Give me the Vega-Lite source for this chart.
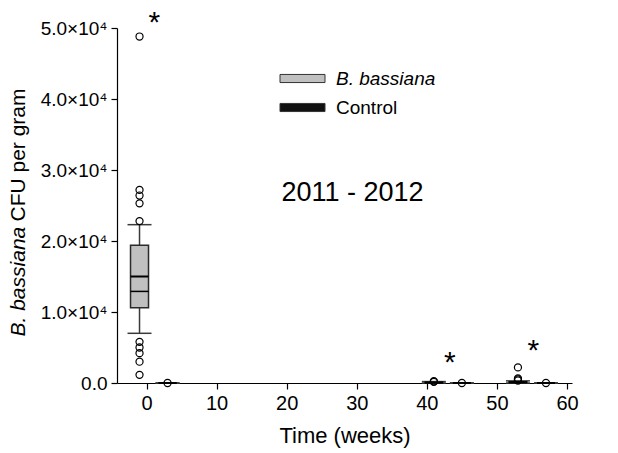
{
  "$schema": "https://vega.github.io/schema/vega-lite/v6.json",
  "width": 455,
  "height": 355,
  "autosize": {"type": "none"},
  "padding": {"left": 117, "top": 28, "right": 46, "bottom": 70},
  "background": "white",
  "config": {
    "view": {"stroke": null},
    "font": "Liberation Sans",
    "axis": {
      "grid": false,
      "domainColor": "#000",
      "tickColor": "#000",
      "labelColor": "#000",
      "titleColor": "#000",
      "labelFont": "Liberation Sans",
      "titleFont": "Liberation Sans",
      "labelFontSize": 19,
      "titleFontSize": 21,
      "titleFontWeight": "normal",
      "domainWidth": 1.2,
      "tickWidth": 1.2,
      "tickSize": 6
    }
  },
  "datasets": {
    "boxes": [
      {"group": "B. bassiana", "week": -1, "lo": 7000, "q1": 10600, "median": 15000, "mean": 12900, "q3": 19400, "hi": 22300},
      {"group": "Control", "week": 3, "lo": 0, "q1": 0, "median": 0, "mean": 0, "q3": 0, "hi": 0},
      {"group": "B. bassiana", "week": 41, "lo": 0, "q1": 0, "median": 60, "mean": 60, "q3": 120, "hi": 200},
      {"group": "Control", "week": 45, "lo": 0, "q1": 0, "median": 0, "mean": 0, "q3": 0, "hi": 0},
      {"group": "B. bassiana", "week": 53, "lo": 0, "q1": 40, "median": 100, "mean": 100, "q3": 180, "hi": 300},
      {"group": "Control", "week": 57, "lo": 0, "q1": 0, "median": 0, "mean": 0, "q3": 0, "hi": 0}
    ],
    "outliers": [
      {"week": -1, "value": 48800},
      {"week": -1, "value": 27200},
      {"week": -1, "value": 26400},
      {"week": -1, "value": 25300},
      {"week": -1, "value": 22800},
      {"week": -1, "value": 5800},
      {"week": -1, "value": 5000},
      {"week": -1, "value": 4200},
      {"week": -1, "value": 3000},
      {"week": -1, "value": 1150},
      {"week": 3, "value": 0},
      {"week": 41, "value": 250},
      {"week": 41, "value": 150},
      {"week": 45, "value": 0},
      {"week": 53, "value": 350},
      {"week": 53, "value": 500},
      {"week": 53, "value": 650},
      {"week": 53, "value": 2200},
      {"week": 57, "value": 0}
    ],
    "stars": [
      {"week": 1.1, "value": 51500, "text": "*"},
      {"week": 43.3, "value": 3600, "text": "*"},
      {"week": 55.2, "value": 5300, "text": "*"}
    ],
    "period": [
      {"week": 29.4, "value": 26800, "text": "2011 - 2012"}
    ]
  },
  "resolve": {"axis": {"y": "independent"}},
  "layer": [
    {
      "layer": [
        {
          "data": {"name": "boxes"},
          "mark": {"type": "rule", "color": "#3a3a3a", "strokeWidth": 1.5},
          "encoding": {
            "x": {"field": "week", "type": "quantitative", "scale": {"domain": [-3.5, 60], "nice": false, "zero": false},
              "axis": {"values": [0, 10, 20, 30, 40, 50, 60], "title": "Time (weeks)", "titleFontSize": 22, "titlePadding": 12, "labelPadding": 4, "labelFontSize": 20}},
            "y": {"field": "lo", "type": "quantitative", "scale": {"domain": [0, 50000], "nice": false}, "title": "CFU per gram",
              "axis": {"orient": "left", "values": [0, 10000, 20000, 30000, 40000, 50000],
                "labelExpr": "datum.value === 0 ? '0.0' : format(datum.value / 10000, '.1f') + '×10⁴'",
                "labelPadding": 4, "titleAngle": -90, "titleX": -99, "titleY": 193, "titleAlign": "left", "titleBaseline": "middle"}},
            "y2": {"field": "hi"}
          }
        },
        {
          "data": {"name": "boxes"},
          "mark": {"type": "rule", "color": "#3a3a3a", "strokeWidth": 1.5, "xOffset": -12, "x2Offset": 12},
          "encoding": {
            "x": {"field": "week", "type": "quantitative"},
            "x2": {"field": "week"},
            "y": {"field": "hi", "type": "quantitative", "title": "CFU per gram"}
          }
        },
        {
          "data": {"name": "boxes"},
          "mark": {"type": "rule", "color": "#3a3a3a", "strokeWidth": 1.5, "xOffset": -12, "x2Offset": 12},
          "encoding": {
            "x": {"field": "week", "type": "quantitative"},
            "x2": {"field": "week"},
            "y": {"field": "lo", "type": "quantitative", "title": "CFU per gram"}
          }
        },
        {
          "data": {"name": "boxes"},
          "mark": {"type": "bar", "width": 18, "stroke": "#2a2a2a", "strokeWidth": 1.5},
          "encoding": {
            "x": {"field": "week", "type": "quantitative"},
            "y": {"field": "q1", "type": "quantitative", "title": "CFU per gram"},
            "y2": {"field": "q3"},
            "color": {
              "field": "group",
              "type": "nominal",
              "scale": {"domain": ["B. bassiana", "Control"], "range": ["#c0c0c0", "#111111"]},
              "legend": {
                "orient": "none",
                "legendX": 176,
                "legendY": 41,
                "title": null,
                "symbolType": "M-2.5,-0.45H2.5V0.45H-2.5Z",
                "symbolSize": 324,
                "symbolStrokeColor": "#333",
                "symbolStrokeWidth": 1,
                "labelFont": "Liberation Sans",
                "labelFontSize": 19,
                "labelColor": "#000",
                "labelOffset": 24,
                "labelLimit": 300,
                "rowPadding": 9,
                "encode": {
                  "labels": {"update": {"fontStyle": {"signal": "datum.value === 'B. bassiana' ? 'italic' : 'normal'"}}}
                }
              }
            }
          }
        },
        {
          "data": {"name": "boxes"},
          "mark": {"type": "rule", "color": "#000", "strokeWidth": 2, "xOffset": -9, "x2Offset": 9},
          "encoding": {
            "x": {"field": "week", "type": "quantitative"},
            "x2": {"field": "week"},
            "y": {"field": "median", "type": "quantitative", "title": "CFU per gram"}
          }
        },
        {
          "data": {"name": "boxes"},
          "mark": {"type": "rule", "color": "#000", "strokeWidth": 1.5, "xOffset": -9, "x2Offset": 9},
          "encoding": {
            "x": {"field": "week", "type": "quantitative"},
            "x2": {"field": "week"},
            "y": {"field": "mean", "type": "quantitative", "title": "CFU per gram"}
          }
        },
        {
          "data": {"name": "outliers"},
          "mark": {"type": "point", "shape": "circle", "filled": false, "stroke": "#000", "strokeWidth": 1.2, "size": 50, "opacity": 1},
          "encoding": {
            "x": {"field": "week", "type": "quantitative"},
            "y": {"field": "value", "type": "quantitative", "title": "CFU per gram"}
          }
        },
        {
          "data": {"name": "stars"},
          "mark": {"type": "text", "fontSize": 30, "font": "Liberation Sans", "color": "#000", "baseline": "middle", "align": "center", "dy": 6, "clip": false},
          "encoding": {
            "x": {"field": "week", "type": "quantitative"},
            "y": {"field": "value", "type": "quantitative", "title": "CFU per gram"},
            "text": {"field": "text"}
          }
        }
      ]
    },
    {
      "data": {"name": "period"},
      "mark": {"type": "text", "fontSize": 27, "font": "Liberation Sans", "color": "#000", "baseline": "middle", "align": "center"},
      "encoding": {
        "x": {"field": "week", "type": "quantitative"},
        "y": {"field": "value", "type": "quantitative", "title": "B. bassiana",
          "axis": {"orient": "left", "labels": false, "ticks": false, "domain": false, "titleFontStyle": "italic", "titleFontSize": 21,
            "titleAngle": -90, "titleX": -99, "titleY": 308, "titleAlign": "left", "titleBaseline": "middle"}},
        "text": {"field": "text"}
      }
    }
  ]
}
